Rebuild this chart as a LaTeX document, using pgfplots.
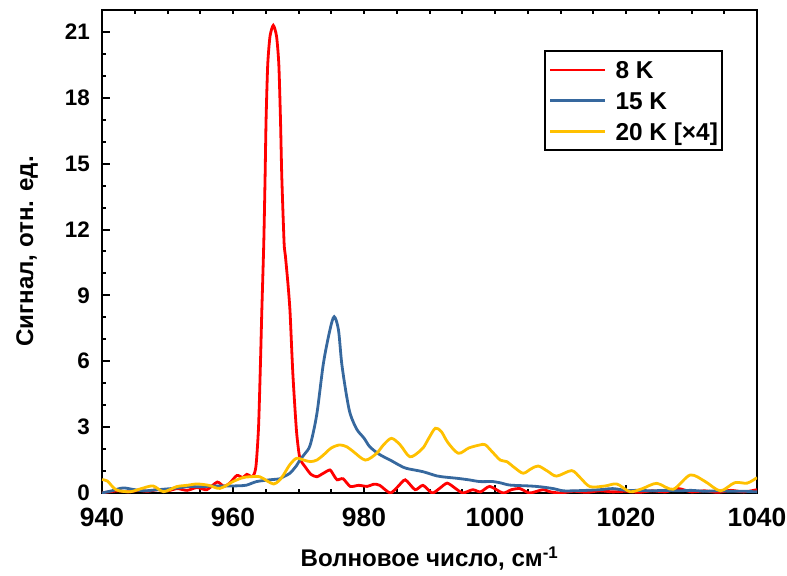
\documentclass[border=0pt]{standalone}
\usepackage{fontspec}
\setmainfont{Liberation Sans}
\usepackage{pgfplots}
\pgfplotsset{compat=1.18}

\definecolor{c8}{RGB}{255,0,0}
\definecolor{c15}{RGB}{54,104,158}
\definecolor{c20}{RGB}{255,192,0}

\begin{document}
\begin{tikzpicture}
\path[use as bounding box] (-102bp,-83bp) rectangle (685bp,493bp);
\begin{axis}[
  at={(0,0)}, anchor=south west,
  scale only axis, width=655bp, height=483bp,
  xmin=940, xmax=1040, ymin=0, ymax=22,
  xtick={940,960,...,1040}, ytick={0,3,...,21},
  minor x tick num=3, minor y tick num=2,
  xtick pos=left, ytick pos=left,
  tick align=inside,
  major tick length=8bp, minor tick length=4bp,
  tick style={black, line width=2bp},
  axis line style={line width=2.5bp},
  /pgf/number format/assume math mode=true,
  /pgf/number format/1000 sep={},
  xticklabel style={font=\fontsize{26.5}{31}\selectfont\bfseries, anchor=north, inner sep=0pt, yshift=-14.7bp},
  yticklabel style={font=\fontsize{22.5}{27}\selectfont\bfseries, anchor=east, inner sep=0pt, xshift=-12bp},
  xlabel={Волновое число, см\textsuperscript{-1}},
  xlabel style={at={(axis description cs:0.5,-0.1532)}, anchor=base, inner sep=0pt, font=\fontsize{24.2}{28}\selectfont\bfseries},
  ylabel={Сигнал, отн. ед.},
  ylabel style={at={(axis description cs:-0.1053,0.5)}, anchor=base, inner sep=0pt, font=\fontsize{24.2}{28}\selectfont\bfseries},
  legend style={at={(0.6748,0.9172)}, anchor=north west, draw=black, line width=2bp,
    font=\fontsize{24.5}{29}\selectfont\bfseries, inner xsep=4bp, inner ysep=3.65bp,
    row sep=0pt, column sep=8.7bp,
    nodes={inner xsep=0pt, inner ysep=0pt, text height=24.15bp, text depth=6.55bp}},
  legend cell align=left,
  legend image code/.code={\draw[#1, line width=2.8bp] (0bp,0bp) -- (55bp,0bp);},
]
% 8 K
\addplot[c8, line width=2.8bp, smooth, tension=0.4] coordinates {
(940,0.0) (941,0.05) (942.5,0.1) (944,0.05) (945.5,0.12) (947,0.08) (948.5,0.15)
(950,0.1) (951.5,0.2) (953,0.12) (954.5,0.25) (956,0.15) (957.6,0.5) (958.6,0.3)
(959.5,0.45) (960.6,0.8) (961.5,0.7) (962.1,0.85) (963.0,0.75) (963.5,1.2)
(963.9,3.0) (964.2,6.0) (964.4,8.3) (964.7,11.4) (964.9,14.4) (965.05,17.0)
(965.3,19.5) (965.65,20.8) (966.15,21.3) (966.65,20.8) (967.0,19.5) (967.25,17.0)
(967.45,14.4) (967.8,11.4) (968.0,10.8) (968.4,9.5) (968.7,8.3) (969.0,6.3)
(969.2,5.1) (969.7,2.8) (970.2,1.6) (971.0,1.2) (971.9,0.85) (972.8,0.74)
(973.8,0.9) (974.8,1.05) (975.4,0.8) (975.9,0.6) (976.8,0.65) (977.9,0.3)
(979.2,0.35) (980.5,0.3) (981.5,0.4) (982.4,0.35) (984.0,0.0) (985.2,0.3)
(986.3,0.6) (987.8,0.15) (989.0,0.35) (990.4,0.0) (991.5,0.2) (992.7,0.45)
(994.0,0.2) (995.1,0.0) (996.6,0.15) (997.8,0.05) (999.2,0.3) (1001.2,0.0)
(1002.5,0.15) (1003.8,0.2) (1005.3,0.0) (1007.3,0.15) (1008.5,0.05) (1010,0.0)
(1012,0.08) (1014,0.03) (1016,0.1) (1018,0.05) (1020,0.08) (1022,0.03)
(1024,0.1) (1026,0.05) (1028,0.2) (1030,0.05) (1032,0.1) (1034,0.03)
(1036,0.12) (1038,0.05) (1040,0.15)
};
\addlegendentry{8 K}
% 15 K
\addplot[c15, line width=2.8bp, smooth, tension=0.5] coordinates {
(940,0.0) (941.5,0.1) (943.2,0.23) (945,0.15) (946.5,0.1) (948.5,0.15)
(950.5,0.2) (952,0.25) (953.4,0.3) (955,0.28) (957,0.32) (959.5,0.32)
(961,0.33) (962.1,0.36) (963.6,0.52) (965.6,0.6) (967.2,0.65) (967.7,0.74)
(968.7,0.9) (969.7,1.25) (970.2,1.5) (971.0,1.8) (971.8,2.2) (972.8,3.6)
(973.8,5.9) (974.8,7.43) (975.45,8.03) (976.1,7.43) (976.6,5.9) (977.3,4.5)
(977.9,3.6) (978.9,2.9) (980.0,2.5) (980.9,2.1) (982.4,1.75) (984.0,1.5)
(985.5,1.25) (986.5,1.12) (989.0,0.97) (991.1,0.78) (992.5,0.72) (994.2,0.67)
(996,0.6) (997.7,0.52) (999.7,0.52) (1001,0.45) (1002.3,0.36) (1005.3,0.32)
(1007,0.28) (1008.9,0.2) (1010.4,0.1) (1012,0.1) (1014,0.12) (1016,0.15)
(1018,0.2) (1020,0.12) (1022,0.12) (1024,0.1) (1026,0.12) (1028,0.1)
(1030,0.12) (1032,0.08) (1034,0.1) (1036,0.08) (1038,0.08) (1040,0.05)
};
\addlegendentry{15 K}
% 20 K, scaled by 4
\addplot[c20, line width=2.8bp, smooth, tension=0.5] coordinates {
(940,0.6) (940.8,0.55) (942.2,0.14) (944.3,0.06) (946,0.2) (947.8,0.32)
(949.4,0.06) (951.4,0.29) (953,0.35) (954.5,0.41) (956.3,0.35) (958,0.21)
(960.0,0.52) (961.5,0.7) (962.6,0.74) (964.1,0.74) (965.2,0.55) (966.2,0.41)
(967.0,0.55) (967.7,0.82) (968.7,1.3) (969.7,1.58) (970.8,1.5) (971.8,1.43)
(972.8,1.5) (973.8,1.73) (975.0,2.05) (976.3,2.19) (977.4,2.1) (978.4,1.88)
(980.2,1.5) (981.9,1.8) (983.0,2.2) (984.2,2.49) (985.5,2.2) (987.0,1.65)
(988.5,1.9) (989.1,2.08) (990.0,2.55) (990.9,2.95) (991.8,2.8) (992.8,2.3)
(994.4,1.81) (996,2.05) (997.7,2.19) (998.5,2.2) (999.5,1.9) (1000.8,1.5)
(1001.8,1.43) (1003,1.15) (1004.3,0.9) (1005.5,1.1) (1006.6,1.23) (1008,1.0)
(1009.4,0.77) (1011.7,1.02) (1013,0.7) (1014.5,0.29) (1016.8,0.32) (1018.6,0.41)
(1020.6,0.06) (1022.5,0.2) (1024.7,0.44) (1027.2,0.17) (1029.8,0.82) (1032.1,0.52)
(1034.4,0.1) (1036.6,0.47) (1038.5,0.45) (1040,0.7)
};
\addlegendentry{20 K [×4]}
\end{axis}
% short ticks along the top edge
\begin{axis}[
  at={(0,0)}, anchor=south west,
  scale only axis, width=655bp, height=483bp,
  xmin=940, xmax=1040, ymin=0, ymax=22,
  axis x line*=top, axis y line=none,
  xtick={940,945,...,1040}, xticklabels={},
  tick align=inside, major tick length=4.5bp,
  tick style={black, line width=2bp},
  axis line style={line width=2.5bp},
]
\end{axis}
\end{tikzpicture}
\end{document}
